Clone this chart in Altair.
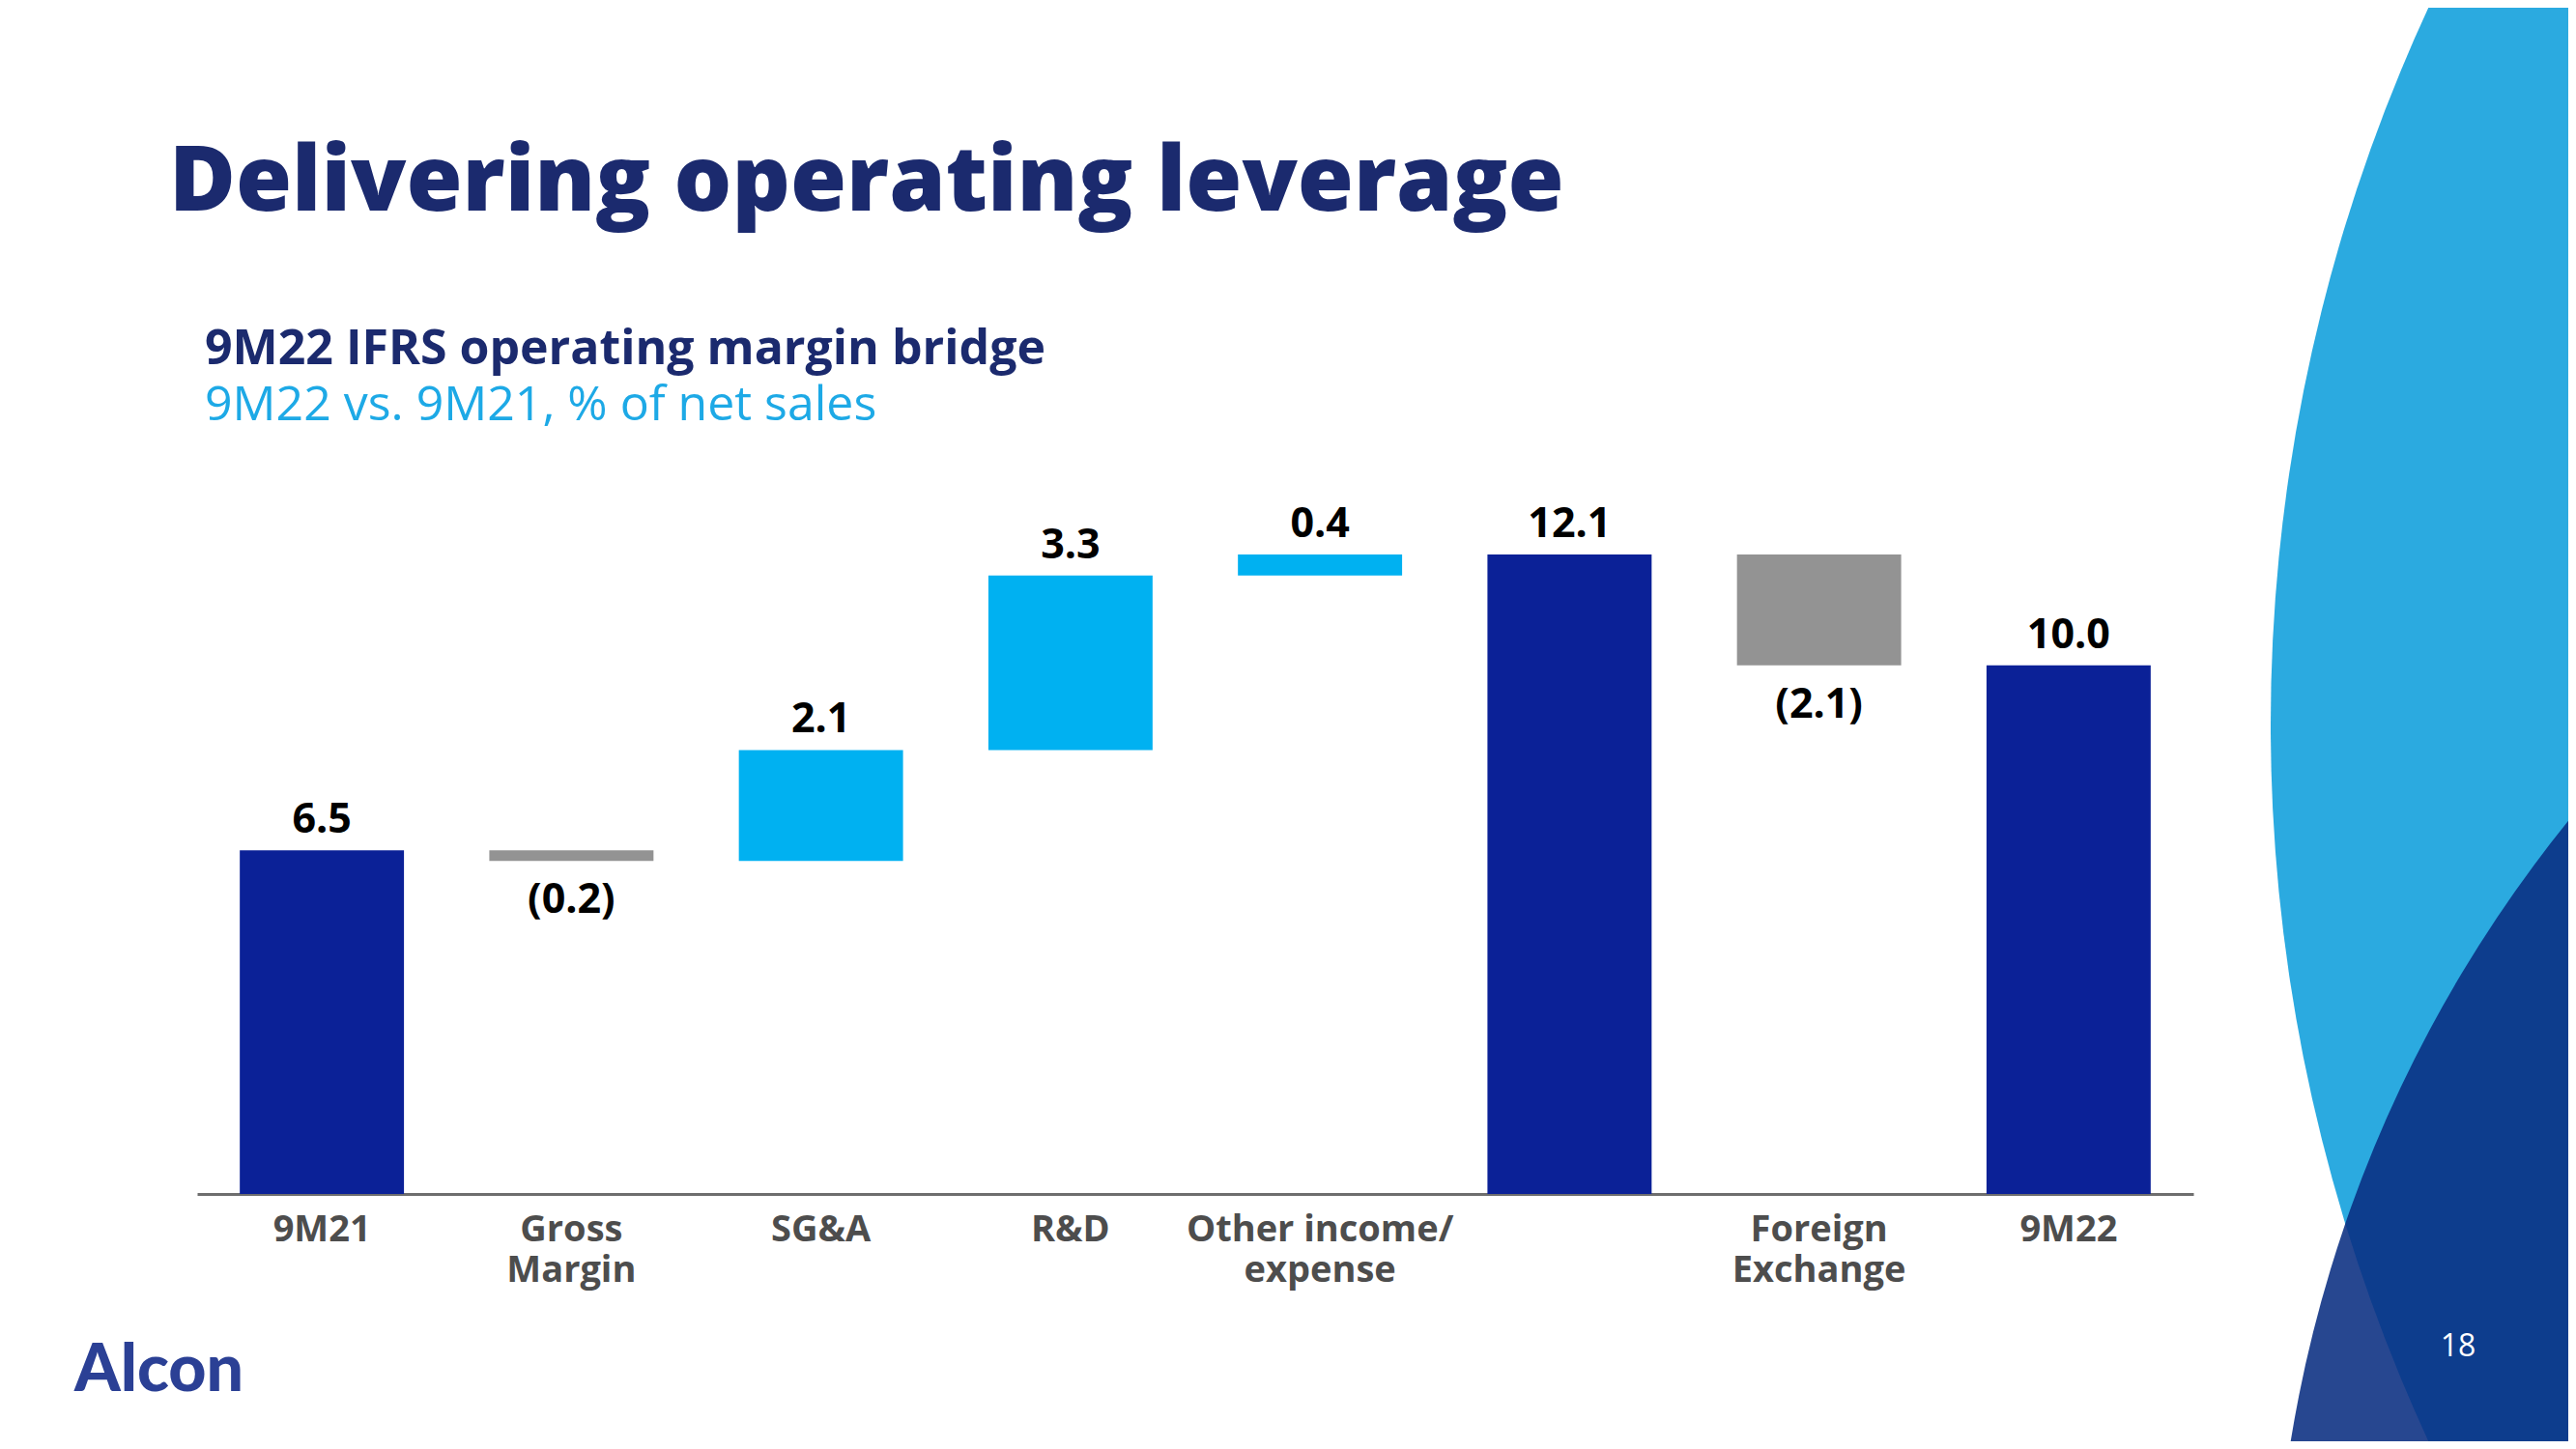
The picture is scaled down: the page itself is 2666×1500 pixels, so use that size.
import altair as alt
import pandas as pd

# ---------------- data ----------------
categories = ["9M21", "Gross|Margin", "SG&A", "R&D", "Other income/|expense", " ", "Foreign|Exchange", "9M22"]
values = [6.5, -0.2, 2.1, 3.3, 0.4, 12.1, -2.1, 10.0]
kinds = ["total", "step", "step", "step", "step", "total", "step", "total"]

TITLE = "Delivering operating leverage"
SUB1 = "9M22 IFRS operating margin bridge"
SUB2 = "9M22 vs. 9M21, % of net sales"
LOGO = "Alcon"
PAGE = "18"

# ---------------- build waterfall table ----------------
rows = []
running = 0.0
for cat, v, k in zip(categories, values, kinds):
    if k == "total":
        start, end = 0.0, v
        running = v
        typ = "total"
    else:
        start, end = running, running + v
        running = end
        typ = "up" if v >= 0 else "down"
    lab = f"{v:.1f}" if v >= 0 else f"({abs(v):.1f})"
    rows.append({"cat": cat, "start": start, "end": end, "lo": min(start, end),
                 "hi": max(start, end), "type": typ, "label": lab, "neg": v < 0})
df = pd.DataFrame(rows)

W, H = 2066, 766
PAD = {"left": 196, "top": 462, "right": 388, "bottom": 256}

xscale = alt.Scale(domain=categories, paddingInner=0.342, paddingOuter=0.171)
yscale = alt.Scale(domain=[0, 14], nice=False, zero=True)

color = alt.Color("type:N", legend=None,
                  scale=alt.Scale(domain=["total", "up", "down"],
                                  range=["#0B2197", "#00B1F1", "#939393"]))

base = alt.Chart(df)

bars = base.mark_bar().encode(
    x=alt.X("cat:N", scale=xscale, sort=categories, title=None,
            axis=alt.Axis(labelExpr="split(datum.label, '|')", labelFont="Open Sans",
                          labelFontSize=38, labelFontWeight=700, labelColor="#4D4D4D",
                          labelLineHeight=42, labelPadding=18, ticks=False,
                          domainColor="#6E6E6E", domainWidth=3, labelAngle=0,
                          labelLimit=0)),
    y=alt.Y("lo:Q", scale=yscale, axis=None),
    y2="hi:Q",
    color=color,
)

pos_labels = base.transform_filter("!datum.neg").mark_text(
    font="Open Sans", fontSize=43, fontWeight=700, color="#000000",
    baseline="alphabetic", align="center", dy=-18,
).encode(x=alt.X("cat:N", scale=xscale, sort=categories), y=alt.Y("hi:Q", scale=yscale), text="label:N")

neg_labels = base.transform_filter("datum.neg").mark_text(
    font="Open Sans", fontSize=43, fontWeight=700, color="#000000",
    baseline="top", align="center", dy=20,
).encode(x=alt.X("cat:N", scale=xscale, sort=categories), y=alt.Y("lo:Q", scale=yscale), text="label:N")

# ---------------- decorations ----------------
def one(text):
    return alt.Chart(pd.DataFrame({"t": [text]}))

R_LIGHT, R_DARK = 1768, 1370
big_light = one("a").mark_circle(size=(2 * R_LIGHT) ** 2, color="#2BAAE0", opacity=1, strokeWidth=0).encode(
    x=alt.value(3914), y=alt.value(280))
big_dark = one("b").mark_circle(size=(2 * R_DARK) ** 2, color="#092E81", opacity=0.88, strokeWidth=0).encode(
    x=alt.value(3519), y=alt.value(1242))

title = one(TITLE).mark_text(font="Open Sans", fontSize=94, fontWeight=800, color="#1B2A6E",
                             align="left", baseline="alphabetic").encode(
    text="t:N", x=alt.value(-29), y=alt.value(-252))
sub1 = one(SUB1).mark_text(font="Open Sans", fontSize=50, fontWeight=700, color="#1B2A6E",
                           align="left", baseline="alphabetic").encode(
    text="t:N", x=alt.value(8), y=alt.value(-93))
sub2 = one(SUB2).mark_text(font="Open Sans", fontSize=50, fontWeight=400, color="#1DA9E6",
                           align="left", baseline="alphabetic").encode(
    text="t:N", x=alt.value(8), y=alt.value(-35))
logo = one(LOGO).mark_text(font="Lato", fontSize=68, fontWeight=900, color="#2B4095",
                           align="left", baseline="alphabetic").encode(
    text="t:N", x=alt.value(-127), y=alt.value(970))
page = one(PAGE).mark_text(font="Open Sans", fontSize=32, fontWeight=400, color="#FFFFFF",
                           align="center", baseline="alphabetic").encode(
    text="t:N", x=alt.value(2340), y=alt.value(934))

chart = alt.layer(
    big_light, big_dark, bars, pos_labels, neg_labels, title, sub1, sub2, logo, page
).properties(
    width=W, height=H, autosize=alt.AutoSizeParams(type="none"), padding=PAD,
    background="#FFFFFF",
).configure_view(stroke=None)

chart.save("out.html", embed_options={"renderer": "svg", "actions": False})
